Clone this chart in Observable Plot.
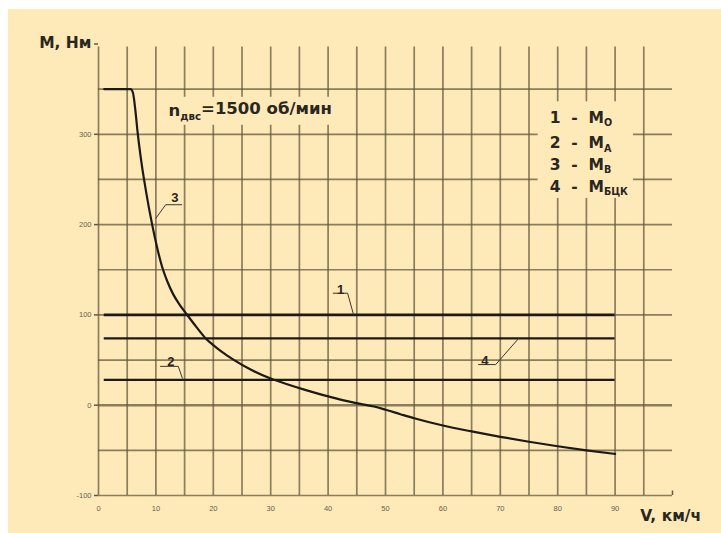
<!DOCTYPE html>
<html><head><meta charset="utf-8">
<script src="https://cdn.jsdelivr.net/npm/d3@7"></script>
<script src="https://cdn.jsdelivr.net/npm/@observablehq/plot@0.6"></script>
<style>
body{margin:0;background:#fff;}
#chart{position:absolute;left:8px;top:9px;}
</style>
</head><body><div id="chart"></div>
<script>
// Curve 3 (M_B) : speed V (km/h) -> torque M (N·m)
const curveV = [1,5.6,6.0,6.4,6.8,7.5,8.3,9.35,10.2,11,12,13,14,15.45,17,18.6,20,21.5,23.5,26.5,30,33,36,39,42,45.6,48,50,52.6,55,60,65,70,75,80,85,90];
const curveM = [350,350,346,328,303,268,236,200,175,155,137,123,112.5,100,87,74.5,66.5,59,50.5,39.5,29.5,23,17,11.5,6.5,1.5,-1.5,-5,-10,-14.5,-22.5,-29,-35,-40.5,-45.5,-50,-54];
// Constant levels: 1 - M_O, 4 - M_БЦК, 2 - M_A
const levelIds = ["1","4","2"];
const levelValues = [100,74,28];
const levelStart = 1, levelEnd = 90;
// Axis ticks
const xTickLabels = [0,10,20,30,40,50,60,70,80,90];
const yTickLabels = [300,200,100,0,-100];
const xGrid = d3.range(0,100,5);
const yGrid = d3.range(-100,400,50);
// Legend
const legendLines = ["1 \u00a0- \u00a0M{О}","2 \u00a0- \u00a0M{А}","3 \u00a0- \u00a0M{В}","4 \u00a0- \u00a0M{БЦК}"];
const legendY = [318,290,266,242];
const speedNote = "n{двс}=1500 об/мин";
// Curve labels with leader lines
const labelText = ["1","2","3","4"];
const labelX = [42.2,12.6,13.3,67.3];
const labelY = [128,48,230,49];
const leaders = [
  [[40.9,124],[43.4,124],[44.4,101]],
  [[10.8,43],[13.9,43],[14.6,30]],
  [[14.5,222],[11.7,222],[10.0,207]],
  [[66.2,45],[69.2,45],[73.2,74]]
];

const curve = curveV.map((v,i)=>({v, m: curveM[i]}));
const levels = levelValues.map((m,i)=>({id: levelIds[i], m}));
const leaderPts = leaders.flatMap((pts,k)=>pts.map(([x,y])=>({k,x,y})));
const bg = "#fee9b8";
const grid = "#66583f";
const ink = "#1c1a16";
const boldFont = "DejaVu Sans, sans-serif";

const plot = Plot.plot({
  width: 713, height: 524,
  marginLeft: 90, marginRight: 49, marginTop: 34.5, marginBottom: 38,
  style: {background: bg, fontFamily: "Liberation Sans, Arial, sans-serif"},
  x: {domain: [0,100], axis: null},
  y: {domain: [-100,400], axis: null},
  marks: [
    Plot.ruleX(xGrid, {x: d=>d, y1: -100, y2: 400, stroke: grid, strokeWidth: 1.7, strokeOpacity: 0.75, insetBottom: -3}),
    Plot.ruleY(yGrid, {y: d=>d, x1: 0, x2: 100, stroke: grid, strokeWidth: d=> d===0 ? 2.6 : 1.7, strokeOpacity: 0.75}),
    Plot.ruleY(yTickLabels, {y: d=>d, x1: 0, x2: 0, stroke: grid, strokeWidth: 1.5, insetLeft: -4}),
    Plot.ruleY([400], {x1: 0, x2: 0, stroke: grid, strokeWidth: 1.5, insetLeft: -4}),
    Plot.ruleX([100], {y1: -100, y2: -95, stroke: grid, strokeWidth: 1.5}),
    // boxes behind the notes
    Plot.rect([{x1: 11.3, x2: 44.3, y1: 310, y2: 341}], {x1:"x1", x2:"x2", y1:"y1", y2:"y2", fill: bg}),
    Plot.rect([{x1: 76.6, x2: 93.2, y1: 229, y2: 336}], {x1:"x1", x2:"x2", y1:"y1", y2:"y2", fill: bg}),
    // constant levels
    Plot.ruleY(levels, {y: "m", x1: levelStart, x2: levelEnd, stroke: ink, strokeWidth: d=> d.id==="1" ? 2.6 : 2.2}),
    // curve 3
    Plot.line(curve, {x: "v", y: "m", stroke: ink, strokeWidth: 2.2, curve: "monotone-x"}),
    // leaders
    Plot.line(leaderPts, {x: "x", y: "y", z: "k", stroke: "#3a3630", strokeWidth: 1}),
    Plot.text(labelText, {x: (d,i)=>labelX[i], y: (d,i)=>labelY[i], text: d=>d, fontSize: 13, fontWeight: "bold", fill: "#2a2620"}),
    // tick labels
    Plot.text(yTickLabels, {x: 0, y: d=>d, text: d=>String(d), dx: -7, textAnchor: "end", fontSize: 7.5, fill: "#6a6050"}),
    Plot.text(xTickLabels, {x: d=>d, y: -100, text: d=>String(d), dy: 13, fontSize: 7.5, fill: "#6a6050"}),
    // axis titles
    Plot.text(["M, Нм"], {x: 0, y: 400, dx: -7, dy: -1, textAnchor: "end", fontSize: 15.5, fontWeight: "bold", fontFamily: boldFont, fill: "#2a2620"}),
    Plot.text(["V, км/ч"], {x: 94.4, y: -100, dy: 21, textAnchor: "start", fontSize: 15.5, fontWeight: "bold", fontFamily: boldFont, fill: "#2a2620"}),
    // notes
    Plot.text([speedNote], {x: 12.2, y: 326, textAnchor: "start", fontSize: 16.5, fontWeight: "bold", fontFamily: boldFont, fill: "#2a2620"}),
    Plot.text(legendLines, {x: 78.6, y: (d,i)=>legendY[i], text: d=>d, textAnchor: "start", fontSize: 15.5, fontWeight: "bold", fontFamily: boldFont, fill: "#2a2620"})
  ]
});

// turn {…} into subscripts
plot.querySelectorAll("text").forEach(t => {
  const s = t.textContent;
  if (!s.includes("{")) return;
  const parts = s.split(/(\{[^}]*\})/).filter(p=>p.length);
  t.textContent = "";
  let sub = false;
  parts.forEach(p => {
    const ts = document.createElementNS("http://www.w3.org/2000/svg","tspan");
    if (p.startsWith("{")) {
      ts.textContent = p.slice(1,-1);
      ts.setAttribute("font-size","0.62em");
      ts.setAttribute("dy","0.35em");
      sub = true;
    } else {
      ts.textContent = p;
      if (sub) { ts.setAttribute("dy","-0.35em"); sub = false; }
    }
    t.appendChild(ts);
  });
});

document.getElementById("chart").appendChild(plot);
</script>
</body></html>
